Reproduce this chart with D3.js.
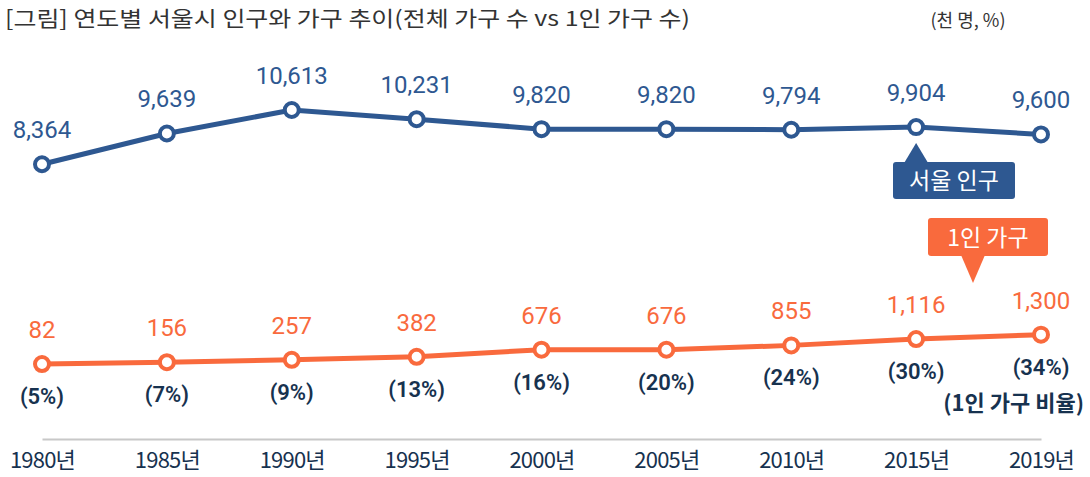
<!DOCTYPE html>
<html>
<head>
<meta charset="utf-8">
<script src="https://cdn.jsdelivr.net/npm/d3@7"></script>
<style>
  body { margin: 0; background: #fff; }
  svg { display: block; }
</style>
</head>
<body>
<script>
const years = ["1980", "1985", "1990", "1995", "2000", "2005", "2010", "2015", "2019"];
const population = [8364, 9639, 10613, 10231, 9820, 9820, 9794, 9904, 9600];
const singles = [82, 156, 257, 382, 676, 676, 855, 1116, 1300];
const shares = [5, 7, 9, 13, 16, 20, 24, 30, 34];

const width = 1090, height = 477;
const blue = "#2e5891", orange = "#f96a3d", navy = "#17324f";
const font = "Roboto, 'Noto Sans CJK KR', sans-serif";
const kr = "'Noto Sans CJK KR', sans-serif";

const svg = d3.select("body").append("svg")
  .attr("width", width)
  .attr("height", height)
  .style("font-family", font);

const x = d3.scalePoint().domain(years).range([42, 1041]);
const y = d3.scaleLinear().domain([0, 10613]).range([366, 110]);

// title + unit
svg.append("text")
  .attr("x", 5).attr("y", 26)
  .attr("font-family", kr)
  .attr("font-size", 21).attr("fill", "#333")
  .attr("textLength", 685).attr("lengthAdjust", "spacingAndGlyphs")
  .text("[그림] 연도별 서울시 인구와 가구 추이(전체 가구 수 vs 1인 가구 수)");

svg.append("text")
  .attr("x", 968).attr("y", 27)
  .attr("text-anchor", "middle")
  .attr("font-family", kr)
  .attr("font-size", 18).attr("fill", "#333")
  .text("(천 명, %)");

// x axis
const axis = svg.append("g")
  .attr("transform", "translate(0,439)")
  .call(d3.axisBottom(x).tickSize(0).tickPadding(13).tickFormat(d => d + "년"));
axis.select(".domain").attr("stroke", "#c8c8c8").attr("stroke-width", 2);
axis.selectAll("text")
  .attr("font-family", kr)
  .attr("font-size", 22).attr("fill", navy)
  .attr("letter-spacing", -0.8);

const line = d3.line().x((d, i) => x(years[i])).y(d => y(d));

function drawSeries(values, color) {
  svg.append("path")
    .datum(values)
    .attr("d", line)
    .attr("fill", "none")
    .attr("stroke", color)
    .attr("stroke-width", 5);

  svg.append("g").selectAll("circle")
    .data(values)
    .join("circle")
    .attr("cx", (d, i) => x(years[i]))
    .attr("cy", d => y(d))
    .attr("r", 7)
    .attr("fill", "#fff")
    .attr("stroke", color)
    .attr("stroke-width", 4);

  svg.append("g").selectAll("text")
    .data(values)
    .join("text")
    .attr("x", (d, i) => x(years[i]))
    .attr("y", d => y(d) - 26)
    .attr("text-anchor", "middle")
    .attr("font-size", 24)
    .attr("fill", color)
    .text(d => d3.format(",")(d));
}

drawSeries(population, blue);
drawSeries(singles, orange);

// share of single households
svg.append("g").selectAll("text")
  .data(shares)
  .join("text")
  .attr("x", (d, i) => x(years[i]))
  .attr("y", (d, i) => y(singles[i]) + 40)
  .attr("text-anchor", "middle")
  .attr("font-size", 22)
  .attr("font-weight", 600)
  .attr("fill", navy)
  .text(d => "(" + d + "%)");

svg.append("text")
  .attr("x", 1084).attr("y", 411)
  .attr("text-anchor", "end")
  .attr("font-family", kr)
  .attr("font-size", 22)
  .attr("font-weight", 600)
  .attr("fill", navy)
  .text("(1인 가구 비율)");

// callouts
const px = x("2015"), py = y(9904);
svg.append("path")
  .attr("d", `M${px - 12},163 L${px},${py + 16} L${px + 12},163 Z`)
  .attr("fill", blue);
svg.append("rect")
  .attr("x", 893).attr("y", 162).attr("width", 122).attr("height", 37)
  .attr("rx", 3).attr("fill", blue);
svg.append("text")
  .attr("x", 954).attr("y", 189)
  .attr("text-anchor", "middle")
  .attr("font-family", kr)
  .attr("font-size", 23).attr("fill", "#fff")
  .text("서울 인구");

svg.append("path")
  .attr("d", "M961,255 L973,283 L985,255 Z")
  .attr("fill", orange);
svg.append("rect")
  .attr("x", 928).attr("y", 218).attr("width", 120).attr("height", 38)
  .attr("rx", 3).attr("fill", orange);
svg.append("text")
  .attr("x", 988).attr("y", 246)
  .attr("text-anchor", "middle")
  .attr("font-family", kr)
  .attr("font-size", 23).attr("fill", "#fff")
  .text("1인 가구");
</script>
</body>
</html>
